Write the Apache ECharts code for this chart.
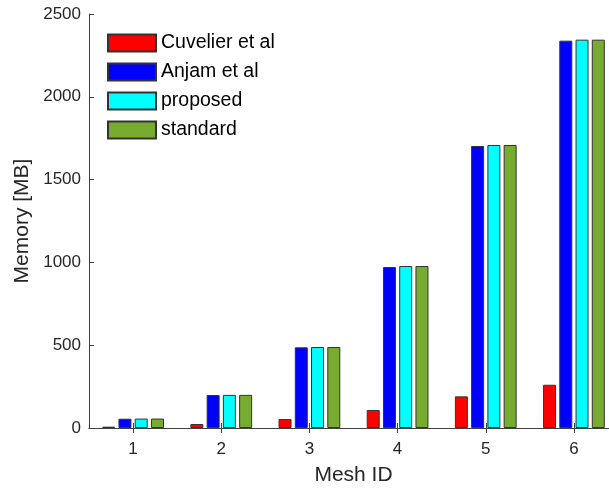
<!DOCTYPE html>
<html>
<head>
<meta charset="utf-8">
<script src="https://cdn.jsdelivr.net/npm/echarts@6/dist/echarts.min.js"></script>
<style>html,body{margin:0;padding:0;background:#fff}#c{width:609px;height:488px}</style>
</head>
<body>
<div id="c"></div>
<script>
const categories = ['1', '2', '3', '4', '5', '6'];
const cuvelier = [8, 24, 54, 109, 191, 261];
const anjam = [56, 199, 487, 972, 1703, 2339];
const proposed = [57, 200, 489, 978, 1709, 2345];
const standard = [57, 200, 489, 978, 1709, 2345];
const yTicks = [0, 500, 1000, 1500, 2000, 2500];

const font = 'Liberation Sans, Arial, Helvetica, sans-serif';
const axisCol = '#404040';
const textCol = '#262626';

function bar(name, data, color) {
  return {
    name: name, type: 'bar', data: data,
    barWidth: 13, barGap: '25%',
    itemStyle: { color: color, borderColor: '#333', borderWidth: 1 }
  };
}

const chart = echarts.init(document.getElementById('c'), null, { renderer: 'canvas' });
chart.setOption({
  animation: false,
  textStyle: { fontFamily: font },
  grid: { left: 89, top: 14, width: 529, height: 414, containLabel: false, outerBoundsMode: 'none' },
  legend: {
    orient: 'vertical', left: 107, top: 33, padding: 0,
    itemWidth: 48, itemHeight: 17, itemGap: 9,
    icon: 'rect',
    textStyle: { fontFamily: font, fontSize: 19.5, color: '#000', lineHeight: 17 },
    data: ['Cuvelier et al', 'Anjam et al', 'proposed', 'standard']
  },
  xAxis: [{
    type: 'category', data: categories, position: 'bottom',
    name: 'Mesh ID', nameLocation: 'middle', nameGap: 37,
    nameTextStyle: { fontFamily: font, fontSize: 21, color: textCol },
    axisLine: { show: true, lineStyle: { color: axisCol, width: 1 } },
    axisTick: { show: true, inside: true, length: 5, alignWithLabel: true, lineStyle: { color: axisCol } },
    axisLabel: { fontFamily: font, fontSize: 17, color: textCol, margin: 13 }
  }, {
    type: 'category', data: categories, position: 'top',
    axisLine: { show: true, lineStyle: { color: axisCol, width: 1 } },
    axisTick: { show: true, inside: true, length: 5, alignWithLabel: true, lineStyle: { color: axisCol } },
    axisLabel: { show: false }
  }],
  yAxis: [{
    type: 'value', min: 0, max: 2500, interval: 500,
    name: 'Memory [MB]', nameLocation: 'middle', nameGap: 56,
    nameTextStyle: { fontFamily: font, fontSize: 21, color: textCol },
    axisLine: { show: true, lineStyle: { color: axisCol, width: 1 } },
    axisTick: { show: true, inside: true, length: 5, lineStyle: { color: axisCol } },
    axisLabel: { fontFamily: font, fontSize: 17, color: textCol, margin: 8,
      formatter: function (v) { return yTicks.indexOf(v) >= 0 ? String(v) : ''; } },
    splitLine: { show: false }
  }, {
    type: 'value', min: 0, max: 2500, interval: 500, position: 'right',
    axisLine: { show: true, lineStyle: { color: axisCol, width: 1 } },
    axisTick: { show: true, inside: true, length: 5, lineStyle: { color: axisCol } },
    axisLabel: { show: false }, splitLine: { show: false }
  }],
  series: [
    bar('Cuvelier et al', cuvelier, '#ff0000'),
    bar('Anjam et al', anjam, '#0000ff'),
    bar('proposed', proposed, '#00ffff'),
    bar('standard', standard, '#77ac30')
  ]
});
</script>
</body>
</html>
